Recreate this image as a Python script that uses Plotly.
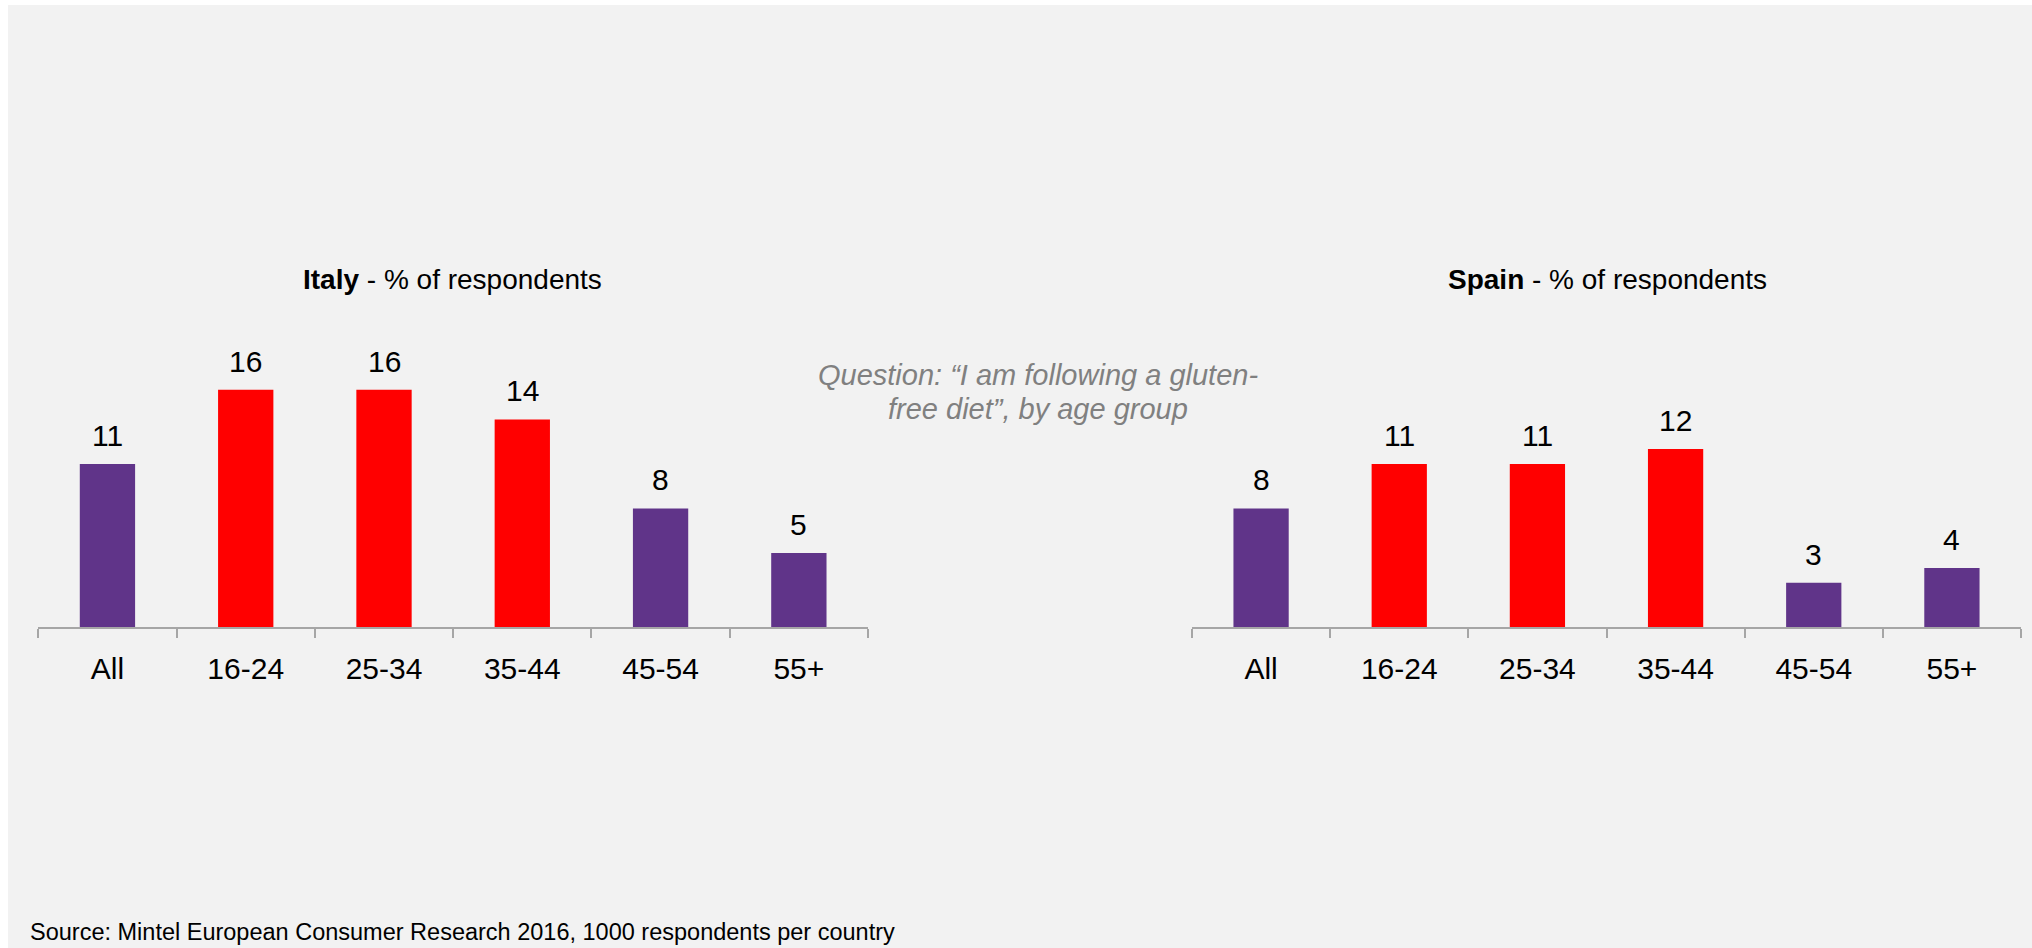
import plotly.graph_objects as go

# ---- data ----
categories = ["All", "16-24", "25-34", "35-44", "45-54", "55+"]
italy_values = [11, 16, 16, 14, 8, 5]
spain_values = [8, 11, 11, 12, 3, 4]
bar_colors = ["#603489", "#ff0000", "#ff0000", "#ff0000", "#603489", "#603489"]
italy_title = "<b>Italy</b> - % of respondents"
spain_title = "<b>Spain</b> - % of respondents"
question_lines = ["Question: \u201cI am following a gluten-", "free diet\u201d, by age group"]
source_text = "Source: Mintel European Consumer Research 2016, 1000 respondents per country"

W, H = 2032, 948
FONT = "Liberation Sans, Arial, sans-serif"

fig = go.Figure()

fig.add_trace(go.Bar(x=categories, y=italy_values, marker_color=bar_colors,
                     marker_line_width=0, width=0.4, xaxis="x", yaxis="y",
                     hoverinfo="skip", showlegend=False))
fig.add_trace(go.Bar(x=categories, y=spain_values, marker_color=bar_colors,
                     marker_line_width=0, width=0.4, xaxis="x2", yaxis="y2",
                     hoverinfo="skip", showlegend=False))

def px_x(v):
    return v / W

def px_y(v):
    return 1 - v / H

axis_y0 = 627.3
yrange_top = 20
ppu = 14.85
dom_y = [px_y(axis_y0), px_y(axis_y0 - yrange_top * ppu)]

xcommon = dict(type="category", range=[-0.5, 5.5], showline=True, linecolor="#a6a6a6",
               linewidth=2, ticks="outside", tickson="boundaries", ticklen=9,
               tickcolor="#a6a6a6", tickwidth=2, showgrid=False, zeroline=False,
               ticklabelstandoff=14,
               tickfont=dict(family=FONT, size=30, color="#000000"), fixedrange=True)
ycommon = dict(range=[0, yrange_top], showgrid=False, zeroline=False, showline=False,
               showticklabels=False, ticks="", domain=dom_y, fixedrange=True)

annotations = []
for xa, vals in (("x", italy_values), ("x2", spain_values)):
    ya = "y" if xa == "x" else "y2"
    for c, v in zip(categories, vals):
        annotations.append(dict(x=c, y=v, xref=xa, yref=ya, text=str(v), showarrow=False,
                                yanchor="bottom", xanchor="center", yshift=10,
                                font=dict(family=FONT, size=30, color="#000000")))

annotations += [
    dict(x=px_x(452), y=px_y(279), xref="paper", yref="paper", text=italy_title,
         showarrow=False, xanchor="center", yanchor="middle",
         font=dict(family=FONT, size=28, color="#000000")),
    dict(x=px_x(1607), y=px_y(279), xref="paper", yref="paper", text=spain_title,
         showarrow=False, xanchor="center", yanchor="middle",
         font=dict(family=FONT, size=28, color="#000000")),
    dict(x=px_x(1038), y=px_y(375), xref="paper", yref="paper",
         text="<i>" + question_lines[0] + "</i>",
         showarrow=False, xanchor="center", yanchor="middle", align="center",
         font=dict(family=FONT, size=29, color="#808080")),
    dict(x=px_x(1038), y=px_y(409), xref="paper", yref="paper",
         text="<i>" + question_lines[1] + "</i>",
         showarrow=False, xanchor="center", yanchor="middle", align="center",
         font=dict(family=FONT, size=29, color="#808080")),
    dict(x=px_x(28), y=px_y(932), xref="paper", yref="paper", text=source_text,
         showarrow=False, xanchor="left", yanchor="middle", align="left",
         font=dict(family=FONT, size=23.5, color="#000000")),
]

fig.update_layout(
    width=W, height=H,
    margin=dict(l=0, r=0, t=0, b=0),
    paper_bgcolor="#ffffff",
    plot_bgcolor="rgba(0,0,0,0)",
    font=dict(family=FONT),
    xaxis=dict(domain=[px_x(38.3), px_x(868)], anchor="y", **xcommon),
    yaxis=dict(anchor="x", **ycommon),
    xaxis2=dict(domain=[px_x(1192), px_x(2021)], anchor="y2", **xcommon),
    yaxis2=dict(anchor="x2", **ycommon),
    annotations=annotations,
    shapes=[dict(type="rect", xref="paper", yref="paper", x0=px_x(8), x1=1,
                 y0=0, y1=px_y(5), fillcolor="#f2f2f2", line_width=0, layer="below")],
    bargap=0.6,
)

fig.write_html("out.html", config={"displayModeBar": False})
